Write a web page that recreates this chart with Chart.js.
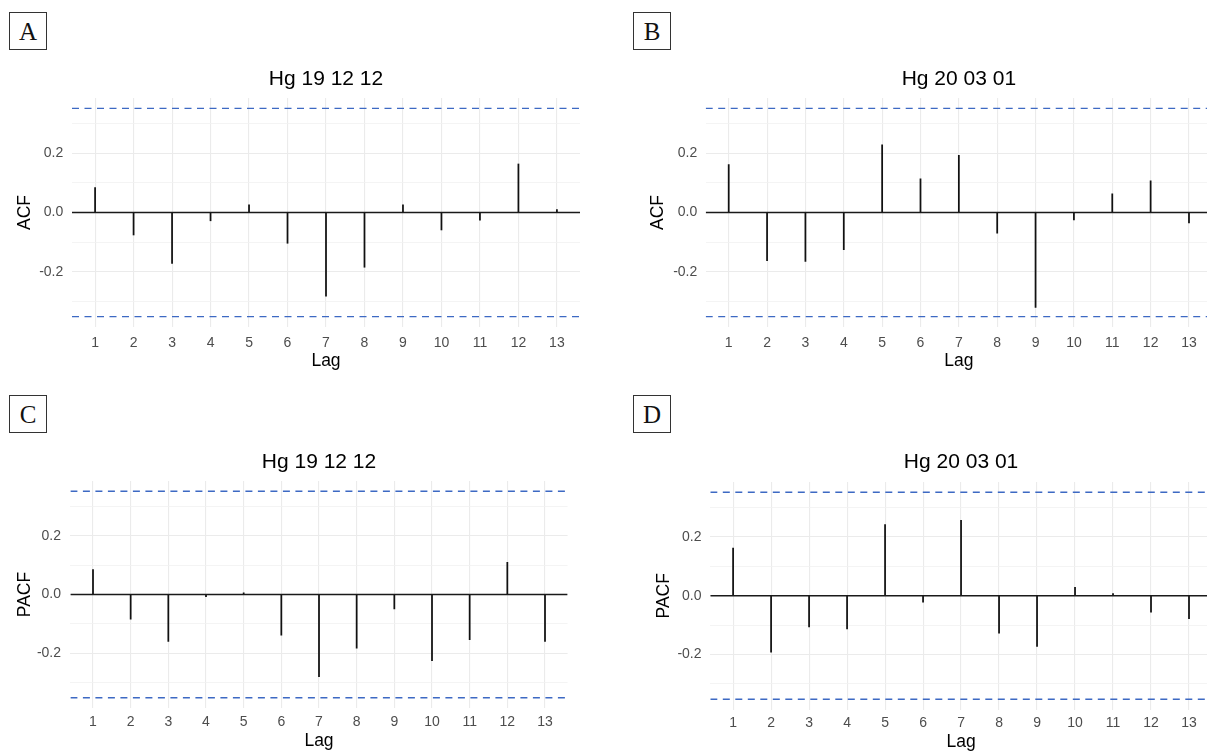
<!DOCTYPE html>
<html>
<head>
<meta charset="utf-8">
<script src="https://cdn.jsdelivr.net/npm/chart.js@4.4.1/dist/chart.umd.min.js"></script>
<style>
  html, body { margin:0; padding:0; background:#fff; }
  #root { position:relative; width:1207px; height:751px; overflow:hidden; background:#fff; }
  .lab { position:absolute; width:38px; height:38px; box-sizing:border-box; border:1px solid #333;
         font:25px 'Liberation Serif','Times New Roman',serif; color:#111;
         display:flex; align-items:center; justify-content:center; padding-top:2px; }
</style>
</head>
<body>
<div id="root">
  <div class="lab" style="left:9px;top:12px">A</div>
  <div class="lab" style="left:633px;top:12px">B</div>
  <div class="lab" style="left:9px;top:395px">C</div>
  <div class="lab" style="left:633px;top:395px">D</div>
</div>
<script>
// ---------------- data ----------------
const lags = [1,2,3,4,5,6,7,8,9,10,11,12,13];
const acfHg191212  = [0.084,-0.076,-0.172,-0.028,0.026,-0.104,-0.283,-0.185,0.026,-0.059,-0.026,0.164,0.010];
const acfHg200301  = [0.162,-0.163,-0.165,-0.126,0.229,0.114,0.193,-0.070,-0.321,-0.025,0.063,0.107,-0.035];
const pacfHg191212 = [0.085,-0.084,-0.160,-0.007,0.006,-0.139,-0.280,-0.183,-0.049,-0.226,-0.154,0.110,-0.160];
const pacfHg200301 = [0.162,-0.192,-0.106,-0.113,0.242,-0.022,0.257,-0.127,-0.172,0.029,0.007,-0.056,-0.078];
const ciLimit = 0.352;
const yTickValues = [-0.2, 0.0, 0.2];
const yTickLabels = ['-0.2', '0.0', '0.2'];
const yMinorValues = [-0.3, -0.1, 0.1, 0.3];
const titles = ['Hg 19 12 12', 'Hg 20 03 01', 'Hg 19 12 12', 'Hg 20 03 01'];

// ---------------- layout / style ----------------
const X_MIN = 0.4, X_MAX = 13.6, Y_LIM = 0.387;
const FONT = "'Liberation Sans', Arial, Helvetica, sans-serif";
Chart.defaults.font.family = FONT;
const BLUE = '#3D69C3';
const GRID = '#EBEBEB', GRID_MINOR = '#F1F1F1';

const panels = [
  { values: acfHg191212,  title: titles[0], yTitle: 'ACF',
    cl: 0,   ct: 55,  plotL: 72,    plotR: 580,    plotT: 98,  plotB: 327,   cb: 375,
    tPadTop: 11.7, tPadBot: 6.1, xTickPad: 7.3, lagPad: 3.5, yTickPad: 8.7, yTitlePad: 14.5 },
  { values: acfHg200301,  title: titles[1], yTitle: 'ACF',
    cl: 630, ct: 55,  plotL: 705.7, plotR: 1212,   plotT: 98,  plotB: 327,   cb: 375,
    tPadTop: 11.7, tPadBot: 6.1, xTickPad: 7.3, lagPad: 3.5, yTickPad: 8.4, yTitlePad: 17.8 },
  { values: pacfHg191212, title: titles[2], yTitle: 'PACF',
    cl: 0,   ct: 440, plotL: 70.4,  plotR: 567.6,  plotT: 481, plotB: 708,   cb: 755,
    tPadTop: 9.4, tPadBot: 6.4, xTickPad: 5.3, lagPad: 3.8, yTickPad: 9.4, yTitlePad: 14.3 },
  { values: pacfHg200301, title: titles[3], yTitle: 'PACF',
    cl: 630, ct: 440, plotL: 710.3, plotR: 1211.8, plotT: 482, plotB: 709.5, cb: 760,
    tPadTop: 9.6, tPadBot: 7.2, xTickPad: 5.4, lagPad: 7.8, yTickPad: 8.8, yTitlePad: 23.5 }
];

const isMajor = v => yTickValues.some(t => Math.abs(t - v) < 1e-9);
const root = document.getElementById('root');

// centre the title over the plotting area (as ggplot does)
const titleOverPanel = {
  id: 'titleOverPanel',
  afterLayout(chart) {
    const t = chart.titleBlock;
    if (t) { t.left = chart.chartArea.left; t.right = chart.chartArea.right; }
  }
};

panels.forEach(p => {
  const ch = p.cb - p.ct;
  const cw = Math.ceil(p.plotR - p.cl);
  const canvas = document.createElement('canvas');
  canvas.width = cw; canvas.height = ch;
  canvas.style.cssText = `position:absolute;left:${p.cl}px;top:${p.ct}px;width:${cw}px;height:${ch}px`;
  root.appendChild(canvas);

  new Chart(canvas, {
    type: 'bar',
    plugins: [titleOverPanel],
    data: {
      datasets: [
        { type: 'line', data: [{x: X_MIN, y: ciLimit}, {x: X_MAX, y: ciLimit}],
          borderColor: BLUE, borderWidth: 1.4, borderDash: [7, 5.5], pointRadius: 0, order: 1 },
        { type: 'line', data: [{x: X_MIN, y: -ciLimit}, {x: X_MAX, y: -ciLimit}],
          borderColor: BLUE, borderWidth: 1.4, borderDash: [7, 5.5], pointRadius: 0, order: 1 },
        { type: 'line', data: [{x: X_MIN, y: 0}, {x: X_MAX, y: 0}],
          borderColor: '#1a1a1a', borderWidth: 1.3, pointRadius: 0, order: 0 },
        { type: 'bar', data: lags.map((l, i) => ({x: l, y: p.values[i]})),
          backgroundColor: '#111', borderWidth: 0, barThickness: 1.1, order: 2 }
      ]
    },
    options: {
      responsive: false,
      animation: false,
      devicePixelRatio: 1,
      layout: { padding: { left: 0, top: 0, right: cw - (p.plotR - p.cl), bottom: 0 } },
      plugins: {
        legend: { display: false },
        tooltip: { enabled: false },
        title: { display: true, text: p.title, color: '#000',
                 font: { size: 21, weight: 'normal', lineHeight: 1.2 },
                 padding: { top: p.tPadTop, bottom: p.tPadBot } }
      },
      scales: {
        x: {
          type: 'linear', min: X_MIN, max: X_MAX, offset: false,
          grid: { offset: false, color: GRID, lineWidth: 1.1, drawTicks: false },
          border: { display: false },
          afterBuildTicks: s => { s.ticks = lags.map(v => ({ value: v })); },
          afterFit: s => { s.height = p.cb - p.plotB; },
          ticks: { padding: p.xTickPad, color: '#4D4D4D', autoSkip: false, maxRotation: 0,
                   font: { size: 14, lineHeight: 1.2 }, callback: v => String(v) },
          title: { display: true, text: 'Lag', color: '#000',
                   font: { size: 17.5, lineHeight: 1.2 }, padding: { top: 0, bottom: p.lagPad } }
        },
        y: {
          type: 'linear', min: -Y_LIM, max: Y_LIM,
          grid: { color: c => isMajor(c.tick.value) ? GRID : GRID_MINOR,
                  lineWidth: c => isMajor(c.tick.value) ? 1.1 : 0.8, drawTicks: false },
          border: { display: false },
          afterBuildTicks: s => {
            s.ticks = yMinorValues.concat(yTickValues).sort((a, b) => a - b).map(v => ({ value: v }));
          },
          afterFit: s => { s.width = p.plotL - p.cl; },
          ticks: { padding: p.yTickPad, color: '#4D4D4D', autoSkip: false,
                   font: { size: 14, lineHeight: 1.2 },
                   callback: v => { const i = yTickValues.findIndex(t => Math.abs(t - v) < 1e-9); return i >= 0 ? yTickLabels[i] : ''; } },
          title: { display: true, text: p.yTitle, color: '#000',
                   font: { size: 17.5, lineHeight: 1.2 }, padding: { top: p.yTitlePad, bottom: 0 } }
        }
      }
    }
  });
});
</script>
</body>
</html>
